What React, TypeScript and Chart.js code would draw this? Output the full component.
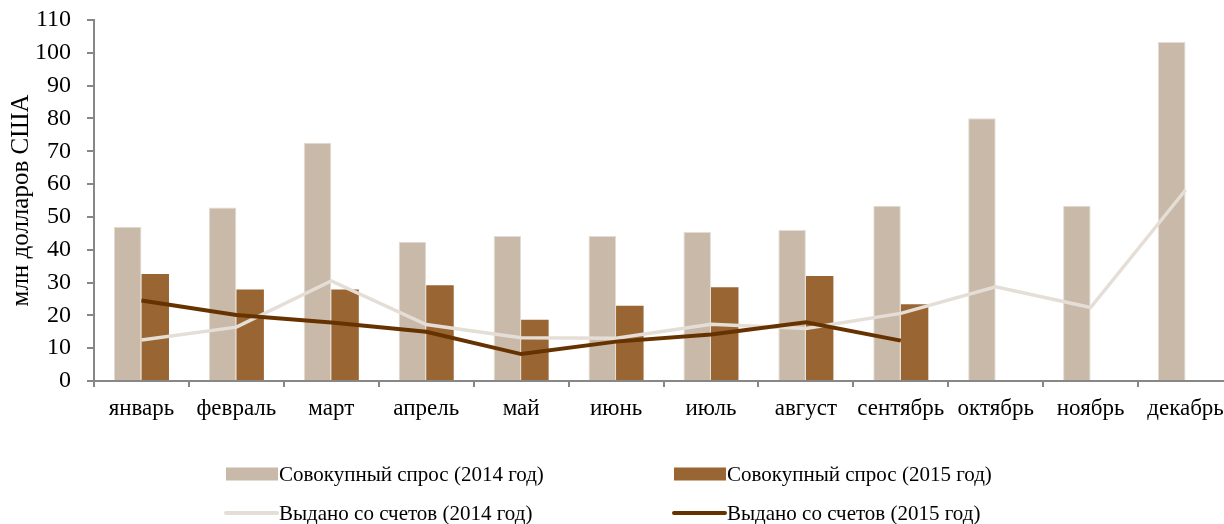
import React, { useEffect, useRef } from "react";
import { Chart, registerables } from "chart.js";

Chart.register(...registerables);

const months = [
  "январь", "февраль", "март", "апрель", "май", "июнь",
  "июль", "август", "сентябрь", "октябрь", "ноябрь", "декабрь",
];
const demand2014 = [47.0, 52.9, 72.6, 42.4, 44.2, 44.2, 45.4, 46.0, 53.4, 80.1, 53.4, 103.3];
const demand2015 = [32.6, 27.9, 27.9, 29.2, 18.7, 22.9, 28.6, 32.0, 23.4, null, null, null];
const withdrawn2014 = [12.5, 16.4, 30.5, 17.2, 13.2, 13.0, 17.3, 16.0, 20.6, 28.7, 22.4, 58.2];
const withdrawn2015 = [24.5, 20.1, 17.8, 15.0, 8.2, 12.0, 14.2, 17.9, 12.3, null, null, null];
const seriesLabels = [
  "Совокупный спрос (2014 год)",
  "Совокупный спрос (2015 год)",
  "Выдано со счетов (2014 год)",
  "Выдано со счетов (2015 год)",
];
const yAxisTitle = "млн долларов США";
const yMin = 0;
const yMax = 110;
const yStep = 10;

const SERIF = "'Liberation Serif', 'Times New Roman', serif";
const AXIS_GRAY = "#878787";

const gridLegend = {
  id: "gridLegend",
  afterDraw(chart: any) {
    const ctx = chart.ctx as CanvasRenderingContext2D;
    const colX = [226, 674];
    const rowY = [474, 513];
    ctx.save();
    ctx.font = `21px ${SERIF}`;
    ctx.textBaseline = "middle";
    ctx.textAlign = "left";
    chart.data.datasets.forEach((ds: any, i: number) => {
      const x = colX[i % 2];
      const y = rowY[Math.floor(i / 2)];
      if (ds.type === "line") {
        ctx.strokeStyle = ds.borderColor;
        ctx.lineWidth = 4;
        ctx.lineCap = "round";
        ctx.beginPath();
        ctx.moveTo(x, y);
        ctx.lineTo(x + 51, y);
        ctx.stroke();
      } else {
        ctx.fillStyle = ds.backgroundColor;
        ctx.fillRect(x, y - 6.5, 52, 13);
      }
      ctx.fillStyle = "#000";
      ctx.fillText(ds.label, x + 53, y + 1);
    });
    ctx.restore();
  },
};

export default function App() {
  const ref = useRef<HTMLCanvasElement | null>(null);

  useEffect(() => {
    if (!ref.current) return;
    const chart = new Chart(ref.current, {
      type: "bar",
      data: {
        labels: months,
        datasets: [
          {
            type: "bar",
            label: seriesLabels[0],
            data: demand2014,
            backgroundColor: "#C8B9A9",
            borderColor: "#E4DCD3",
            borderWidth: { top: 1, left: 1, right: 1, bottom: 0 },
            order: 2,
            categoryPercentage: 0.58,
            barPercentage: 1,
          },
          {
            type: "bar",
            label: seriesLabels[1],
            data: demand2015,
            backgroundColor: "#996633",
            order: 2,
            categoryPercentage: 0.58,
            barPercentage: 1,
          },
          {
            type: "line",
            label: seriesLabels[2],
            data: withdrawn2014,
            borderColor: "#E5DED6",
            backgroundColor: "#E5DED6",
            borderWidth: 3.5,
            pointRadius: 0,
            tension: 0,
            order: 1,
          },
          {
            type: "line",
            label: seriesLabels[3],
            data: withdrawn2015,
            borderColor: "#663300",
            backgroundColor: "#663300",
            borderWidth: 4,
            pointRadius: 0,
            tension: 0,
            order: 0,
          },
        ] as any,
      },
      options: {
        responsive: false,
        animation: false,
        layout: { padding: { left: 0, top: 20, right: 7, bottom: 93 } },
        plugins: {
          legend: { display: false },
          tooltip: { enabled: false },
          title: { display: false },
        },
        scales: {
          x: {
            grid: {
              offset: true,
              drawOnChartArea: false,
              drawTicks: true,
              tickLength: 6,
              color: AXIS_GRAY,
              lineWidth: 2,
            },
            border: { color: AXIS_GRAY, width: 2 },
            ticks: {
              color: "#000",
              font: { family: SERIF, size: 23 },
              padding: 8,
              maxRotation: 0,
              autoSkip: false,
            },
            afterFit: (s: any) => {
              s.height = 50;
              s.paddingLeft = 0;
              s.paddingRight = 0;
            },
          },
          y: {
            min: yMin,
            max: yMax,
            grid: {
              drawOnChartArea: false,
              drawTicks: true,
              tickLength: 7,
              color: AXIS_GRAY,
              lineWidth: 2,
            },
            border: { color: AXIS_GRAY, width: 2 },
            ticks: {
              stepSize: yStep,
              color: "#000",
              font: { family: SERIF, size: 24 },
              padding: 16,
            },
            title: {
              display: true,
              text: yAxisTitle,
              color: "#000",
              font: { family: SERIF, size: 25 },
              padding: { top: 6, bottom: 0 },
            },
            afterFit: (s: any) => {
              s.width = 94;
              s.paddingTop = 0;
              s.paddingBottom = 0;
            },
          },
        },
      } as any,
      plugins: [gridLegend],
    });
    return () => chart.destroy();
  }, []);

  return (
    <div
      style={{
        position: "fixed",
        left: 0,
        top: 0,
        width: 1240,
        height: 524,
        background: "#fff",
      }}
    >
      <canvas ref={ref} width={1240} height={524} />
    </div>
  );
}
